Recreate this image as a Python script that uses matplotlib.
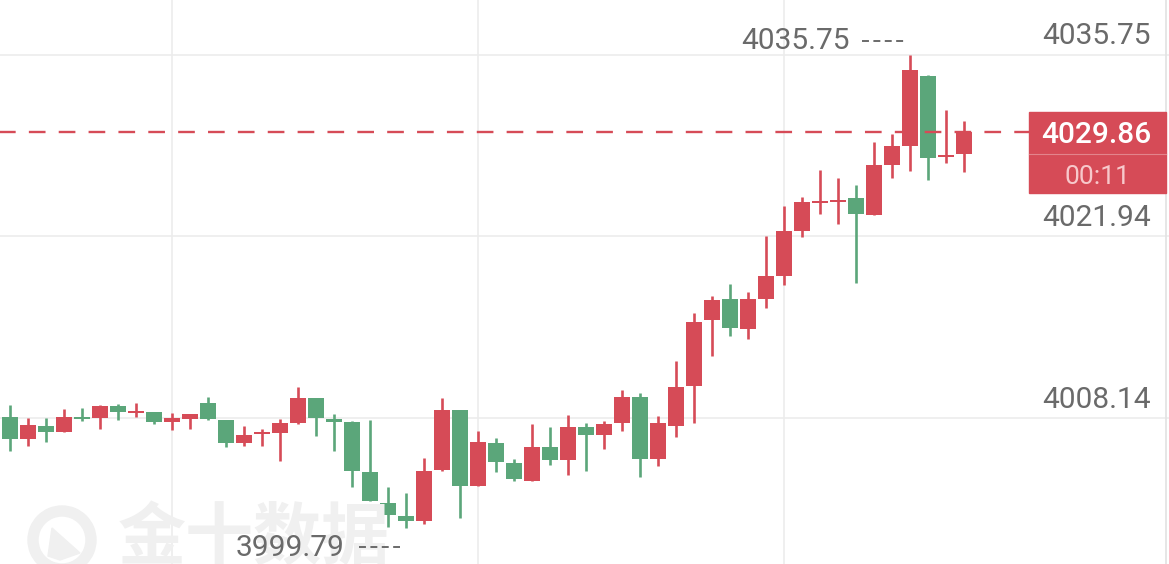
import matplotlib
matplotlib.use("Agg")
import matplotlib.pyplot as plt
from matplotlib.patches import Rectangle, Wedge, Polygon
from matplotlib.lines import Line2D
from matplotlib.transforms import IdentityTransform

# 1-minute candles, oldest first (red = up, green = down)
opens = [4008.24, 4006.54, 4007.55, 4007.10, 4008.16, 4008.16, 4009.08, 4008.54, 4008.57, 4007.86,
         4008.06, 4009.30, 4007.99, 4006.22, 4006.90, 4006.98, 4007.74, 4009.64, 4008.04, 4007.81,
         4004.01, 4001.70, 4000.69, 4000.31, 4004.19, 4008.75, 4002.97, 4006.26, 4004.74, 4003.37,
         4005.96, 4004.95, 4007.48, 4006.85, 4007.74, 4009.76, 4005.00, 4007.53, 4010.57, 4015.59,
         4017.17, 4014.88, 4017.17, 4018.94, 4022.38, 4024.51, 4024.59, 4024.84, 4023.57, 4027.38,
         4028.84, 4034.17, 4027.96, 4028.19]
closes = [4006.54, 4007.61, 4007.10, 4008.19, 4008.04, 4009.08, 4008.62, 4008.67, 4007.81, 4008.16,
          4008.44, 4008.04, 4006.22, 4006.85, 4007.02, 4007.74, 4009.64, 4008.12, 4007.86, 4004.11,
          4001.85, 4000.77, 4000.31, 4004.13, 4008.75, 4002.99, 4006.29, 4004.82, 4003.50, 4005.96,
          4004.95, 4007.43, 4006.85, 4007.68, 4009.76, 4005.00, 4007.74, 4010.47, 4015.42, 4017.11,
          4014.96, 4017.17, 4018.94, 4022.36, 4024.54, 4024.64, 4024.71, 4023.65, 4027.38, 4028.84,
          4034.60, 4027.93, 4028.06, 4029.86]
highs = [4009.13, 4008.16, 4008.12, 4008.80, 4008.88, 4009.13, 4009.20, 4009.26, 4008.60, 4008.54,
         4008.46, 4009.71, 4007.99, 4007.53, 4007.28, 4008.04, 4010.52, 4009.66, 4008.44, 4007.93,
         4007.99, 4002.87, 4002.42, 4005.08, 4009.64, 4008.77, 4007.15, 4006.60, 4005.02, 4007.66,
         4007.48, 4008.37, 4007.78, 4007.93, 4010.27, 4010.06, 4008.29, 4012.50, 4016.10, 4017.44,
         4018.33, 4017.74, 4021.98, 4024.26, 4024.97, 4027.00, 4026.36, 4025.85, 4029.15, 4029.71,
         4035.75, 4034.20, 4031.56, 4030.74]
lows = [4005.63, 4006.03, 4006.29, 4007.05, 4007.93, 4007.30, 4007.99, 4008.19, 4007.66, 4007.23,
        4007.30, 4008.02, 4005.91, 4006.01, 4006.01, 4004.89, 4007.66, 4006.79, 4005.63, 4002.87,
        4001.85, 3999.88, 3999.79, 4000.06, 4004.11, 4000.51, 4002.95, 4004.01, 4003.37, 4003.35,
        4004.57, 4003.81, 4004.13, 4005.76, 4007.17, 4003.68, 4004.51, 4006.67, 4007.78, 4012.88,
        4014.40, 4014.15, 4016.53, 4018.25, 4021.92, 4023.63, 4022.89, 4018.38, 4023.55, 4026.41,
        4026.94, 4026.24, 4027.50, 4026.87]

price_labels = [4035.75, 4021.94, 4008.14]
time_grid = [9, 26, 43]          # candles that sit on a vertical grid line
last_price = 4029.86
countdown = "00:11"
watermark = "金十数据"

RED = "#d64b57"
GREEN = "#5ba67a"
GRID = "#ececec"
LABEL = "#6a6a6a"

plt.rcParams["font.family"] = ["Roboto", "DejaVu Sans"]
plt.rcParams["lines.scale_dashes"] = False

W, H = 1169, 564
fig = plt.figure(figsize=(W / 100, H / 100), dpi=100)
ax = fig.add_axes([0, 0, 1, 1])
ax.set_xlim(-0.556, 64.39)
ax.set_ylim(3997.04, 4039.92)
ax.axis("off")
ID = IdentityTransform()


def disp(x, y):
    return ax.transData.transform((x, y))


# watermark (bottom left, very faint)
wm = "#f0f0f0"
fig.patches.append(Wedge((62, H - 540), 34, 0, 360, width=10, color=wm, transform=ID, zorder=0))
fig.patches.append(Polygon([(52, H - 528), (80, H - 553), (60, H - 560), (48, H - 556)],
                           closed=True, color=wm, transform=ID, zorder=0))
fig.text(118, H - 540, watermark, transform=ID, fontsize=49, fontweight="bold", color=wm,
         family=["Noto Sans CJK SC", "DejaVu Sans"], va="center", ha="left", zorder=0)

# grid
for p in price_labels:
    ax.axhline(p, color=GRID, lw=1.2, zorder=1)
for i in time_grid:
    ax.axvline(i, color=GRID, lw=1.2, zorder=1)
fig.lines.append(Line2D([1166, 1166], [0, H], color="#e2e2e2", lw=1.2, transform=ID))

# candles
bw = 0.84
for i, (o, h, l, c) in enumerate(zip(opens, highs, lows, closes)):
    col = RED if c >= o else GREEN
    ax.vlines(i, l, h, color=col, lw=1.9, zorder=3)
    bot = min(o, c)
    ht = max(abs(c - o), 0.16)
    ax.add_patch(Rectangle((i - bw / 2, bot), bw, ht, color=col, lw=0, zorder=4))

# last price dashed line
ax.plot([-1, 58.6], [last_price, last_price], color=RED, lw=1.7,
        linestyle=(0, (12, 9.5)), zorder=5)

# right-hand price labels
for p in price_labels:
    _, y = disp(0, p)
    fig.text(1151, y + 10.5, f"{p:.2f}", transform=ID, ha="right", va="baseline",
             fontsize=21.5, color=LABEL)

# last price box
_, ly = disp(0, last_price)
fig.patches.append(Rectangle((1029, ly - 61), 137, 81, color=RED, transform=ID, zorder=6))
fig.lines.append(Line2D([1029, 1166], [ly - 22, ly - 22], color="#e3848c", lw=0.8,
                        transform=ID, zorder=7))
fig.text(1151, ly - 11, f"{last_price:.2f}", transform=ID, ha="right", va="baseline",
         fontsize=21.5, fontweight="medium", color="white", zorder=8)
fig.text(1097, ly - 52, countdown, transform=ID, ha="center", va="baseline",
         fontsize=19, color="#f7c8cb", zorder=8)

# high / low markers
hi = max(range(len(highs)), key=lambda k: highs[k])
lo = min(range(len(lows)), key=lambda k: lows[k])
hx, hy = disp(hi, highs[hi])
fig.text(hx - 60, hy + 5.5, f"{highs[hi]:.2f}", transform=ID, ha="right", va="baseline",
         fontsize=21.5, color=LABEL)
fig.lines.append(Line2D([hx - 48, hx - 5], [hy + 13.5, hy + 13.5], color=LABEL, lw=1.4,
                        linestyle=(0, (5, 3.2)), transform=ID))
lx, ly2 = disp(lo, lows[lo])
fig.text(lx - 61, ly2 - 28.5, f"{lows[lo]:.2f}", transform=ID, ha="right", va="baseline",
         fontsize=21.5, color=LABEL)
fig.lines.append(Line2D([lx - 47, lx - 6], [ly2 - 19.5, ly2 - 19.5], color=LABEL, lw=1.4,
                        linestyle=(0, (5, 3.2)), transform=ID))

fig.savefig("out.png", dpi=100, facecolor="white")
